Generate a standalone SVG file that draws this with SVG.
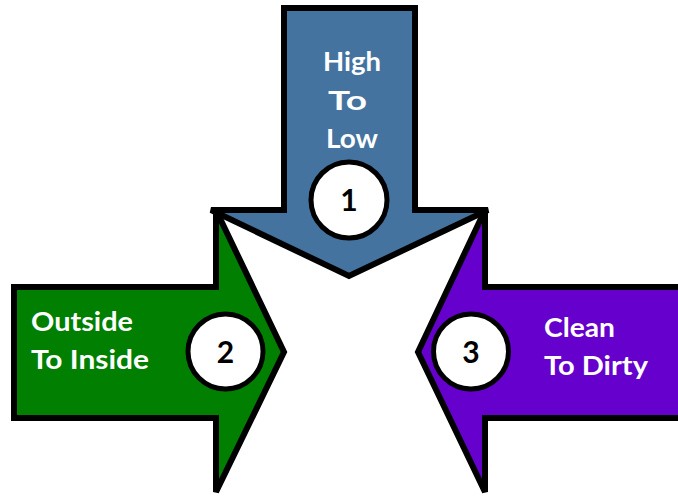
<svg xmlns="http://www.w3.org/2000/svg" width="678" height="497" viewBox="0 0 678 497">
<style>
.arrow{stroke:#000;stroke-width:6;stroke-linejoin:miter;stroke-miterlimit:3}
.circ{fill:#fff;stroke:#000;stroke-width:5}
.lbl{font-family:Lato,"Open Sans","Liberation Sans",sans-serif;font-weight:bold;font-size:26.5px;fill:#fff}
.num{font-family:Lato,"Open Sans","Liberation Sans",sans-serif;font-weight:bold;font-size:30px;fill:#000;text-anchor:middle}
</style>
<rect width="678" height="497" fill="#fff"/>
<g id="arrow-high-to-low">
<polygon class="arrow" fill="#44739F" points="284,8 415,8 415,210 488,210 349,276 211,210 284,210"/>
<text class="lbl" x="323" y="71" textLength="58" lengthAdjust="spacingAndGlyphs">High</text>
<text class="lbl" x="328" y="110" textLength="39" lengthAdjust="spacingAndGlyphs">To</text>
<text class="lbl" x="326" y="148" textLength="52" lengthAdjust="spacingAndGlyphs">Low</text>
<circle class="circ" cx="349" cy="200" r="38"/>
<text class="num" x="349" y="211">1</text>
</g>
<g id="arrow-outside-to-inside">
<polygon class="arrow" fill="#007F00" points="14,287 216,287 216,210 284,352 216,492 216,418 14,418"/>
<text class="lbl" x="31" y="331" textLength="102" lengthAdjust="spacingAndGlyphs">Outside</text>
<text class="lbl" x="31" y="369" textLength="118" lengthAdjust="spacingAndGlyphs">To Inside</text>
<circle class="circ" cx="225.5" cy="351.5" r="37.5"/>
<text class="num" x="225.5" y="362.5">2</text>
</g>
<g id="arrow-clean-to-dirty">
<polygon class="arrow" fill="#6600CC" points="690,287 485,287 485,210 418,352 485,492 485,418 690,418"/>
<text class="lbl" x="544" y="337" textLength="71" lengthAdjust="spacingAndGlyphs">Clean</text>
<text class="lbl" x="544" y="375" textLength="104" lengthAdjust="spacingAndGlyphs">To Dirty</text>
<circle class="circ" cx="471" cy="351.5" r="37.5"/>
<text class="num" x="471" y="362.5">3</text>
</g>
<g id="connectors"/>
</svg>
